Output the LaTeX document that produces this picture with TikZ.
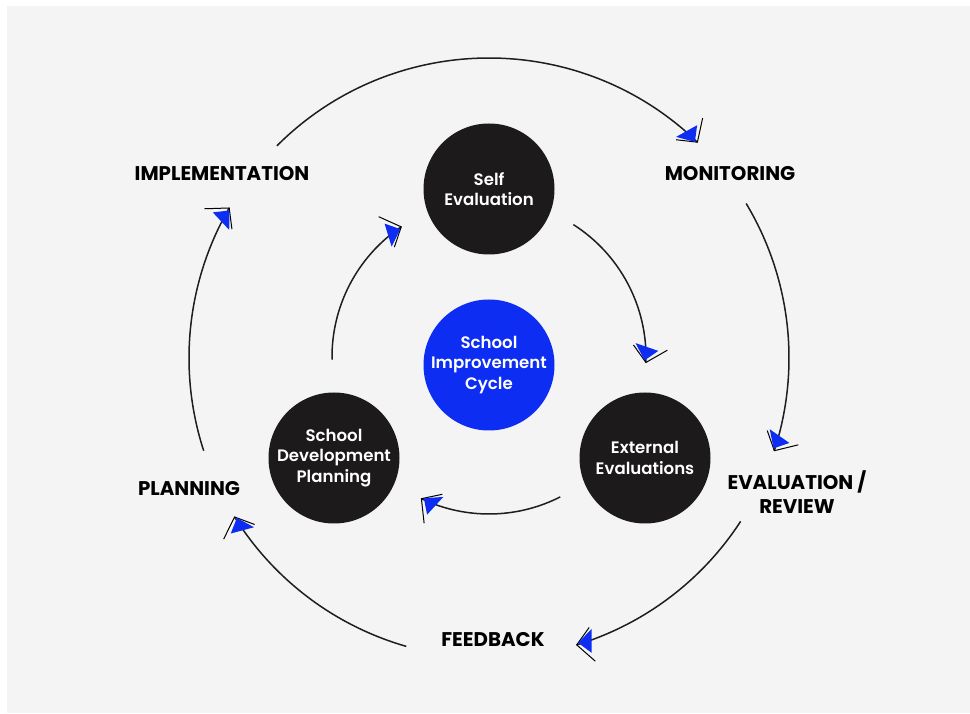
\documentclass[tikz,border=0pt]{standalone}
\usepackage{fontspec}
\setmainfont{Poppins}
\newfontfamily\diskfont{Poppins SemiBold}
\definecolor{panelgray}{RGB}{244,244,244}
\definecolor{diskblack}{RGB}{28,26,26}
\definecolor{cycleblue}{RGB}{13,45,243}
\definecolor{strokegray}{RGB}{30,30,30}

\begin{document}
\begin{tikzpicture}[x=1pt,y=1pt,
  disk/.style={circle, fill=diskblack, minimum size=131pt, inner sep=0pt,
    text=white, align=center, font=\diskfont\fontsize{16.6}{20.5}\selectfont},
  hub/.style={disk, fill=cycleblue},
  stage/.style={align=center, text=black, inner sep=0pt,
    font=\bfseries\fontsize{19.8}{24}\selectfont},
  chev/.pic={
    \draw[black, line width=1pt, line join=miter] (-13,21) -- (0,0) -- (-17,-13);
    \fill[cycleblue] (-2,-1.5) -- (-19,-11) -- (-12,12) -- cycle;
  },
  flow/.style={draw=strokegray, line width=1.5pt}
]
% canvas
\useasboundingbox (0,0) rectangle (970,713);
\fill[white] (0,0) rectangle (970,713);
\fill[panelgray] (7,0) rectangle (970,707);

% centres of the two rings
\coordinate (O) at (489,355);
\coordinate (I) at (489,356);

% discs
\node[disk] (self) at (489,524) {Self\\Evaluation};
\node[hub]  (hub)  at (489,348) {School\\Improvement\\Cycle};
\node[disk] (sdp)  at (334,255) {School\\Development\\Planning};
\node[disk] (ext)  at (645,255) {External\\Evaluations};

% stage labels
\node[stage] (impl) at (222,539) {IMPLEMENTATION};
\node[stage] (mon)  at (730,539) {MONITORING};
\node[stage] (eval) at (797,221) {EVALUATION /\\REVIEW};
\node[stage] (fb)   at (493,73)  {FEEDBACK};
\node[stage] (plan) at (189,224) {PLANNING};

% outer ring: start and end points of each stage arc
\path (O) ++(135:300)  coordinate (impl-out) (O) ++(46:300)   coordinate (mon-in);
\path (O) ++(31:300)   coordinate (mon-out)  (O) ++(-18:300)  coordinate (eval-in);
\path (O) ++(-33:300)  coordinate (eval-out) (O) ++(-73:300)  coordinate (fb-in);
\path (O) ++(-106:300) coordinate (fb-out)   (O) ++(-148:300) coordinate (plan-in);
\path (O) ++(198:300)  coordinate (plan-out) (O) ++(150:300)  coordinate (impl-in);
\draw[flow] (impl-out) arc[start angle=135, end angle=46, radius=300];
\draw[flow] (mon-out)  arc[start angle=31, end angle=-18, radius=300];
\draw[flow] (eval-out) arc[start angle=-33, end angle=-73, radius=300];
\draw[flow] (fb-out)   arc[start angle=-106, end angle=-148, radius=300];
\draw[flow] (plan-out) arc[start angle=198, end angle=150, radius=300];
\pic[rotate=-44]  at (mon-in)  {chev};
\pic[rotate=-108] at (eval-in) {chev};
\pic[rotate=-163] at (fb-in)   {chev};
\pic[rotate=-238] at (plan-in) {chev};
\pic[rotate=60]   at (impl-in) {chev};

% inner ring: disc to disc
\path (I) ++(57.5:157) coordinate (self-out) (I) ++(-2:157)    coordinate (ext-in);
\path (I) ++(-63:157)  coordinate (ext-out)  (I) ++(-115.5:157) coordinate (sdp-in);
\path (I) ++(181:157)  coordinate (sdp-out)  (I) ++(124:157)   coordinate (self-in);
\draw[flow] (self-out) arc[start angle=57.5, end angle=-2, radius=157];
\draw[flow] (ext-out)  arc[start angle=-63, end angle=-115.5, radius=157];
\draw[flow] (sdp-out)  arc[start angle=181, end angle=124, radius=157];
\pic[rotate=-92]    at (ext-in)  {chev};
\pic[rotate=-205.5] at (sdp-in)  {chev};
\pic[rotate=34]     at (self-in) {chev};
\end{tikzpicture}
\end{document}
